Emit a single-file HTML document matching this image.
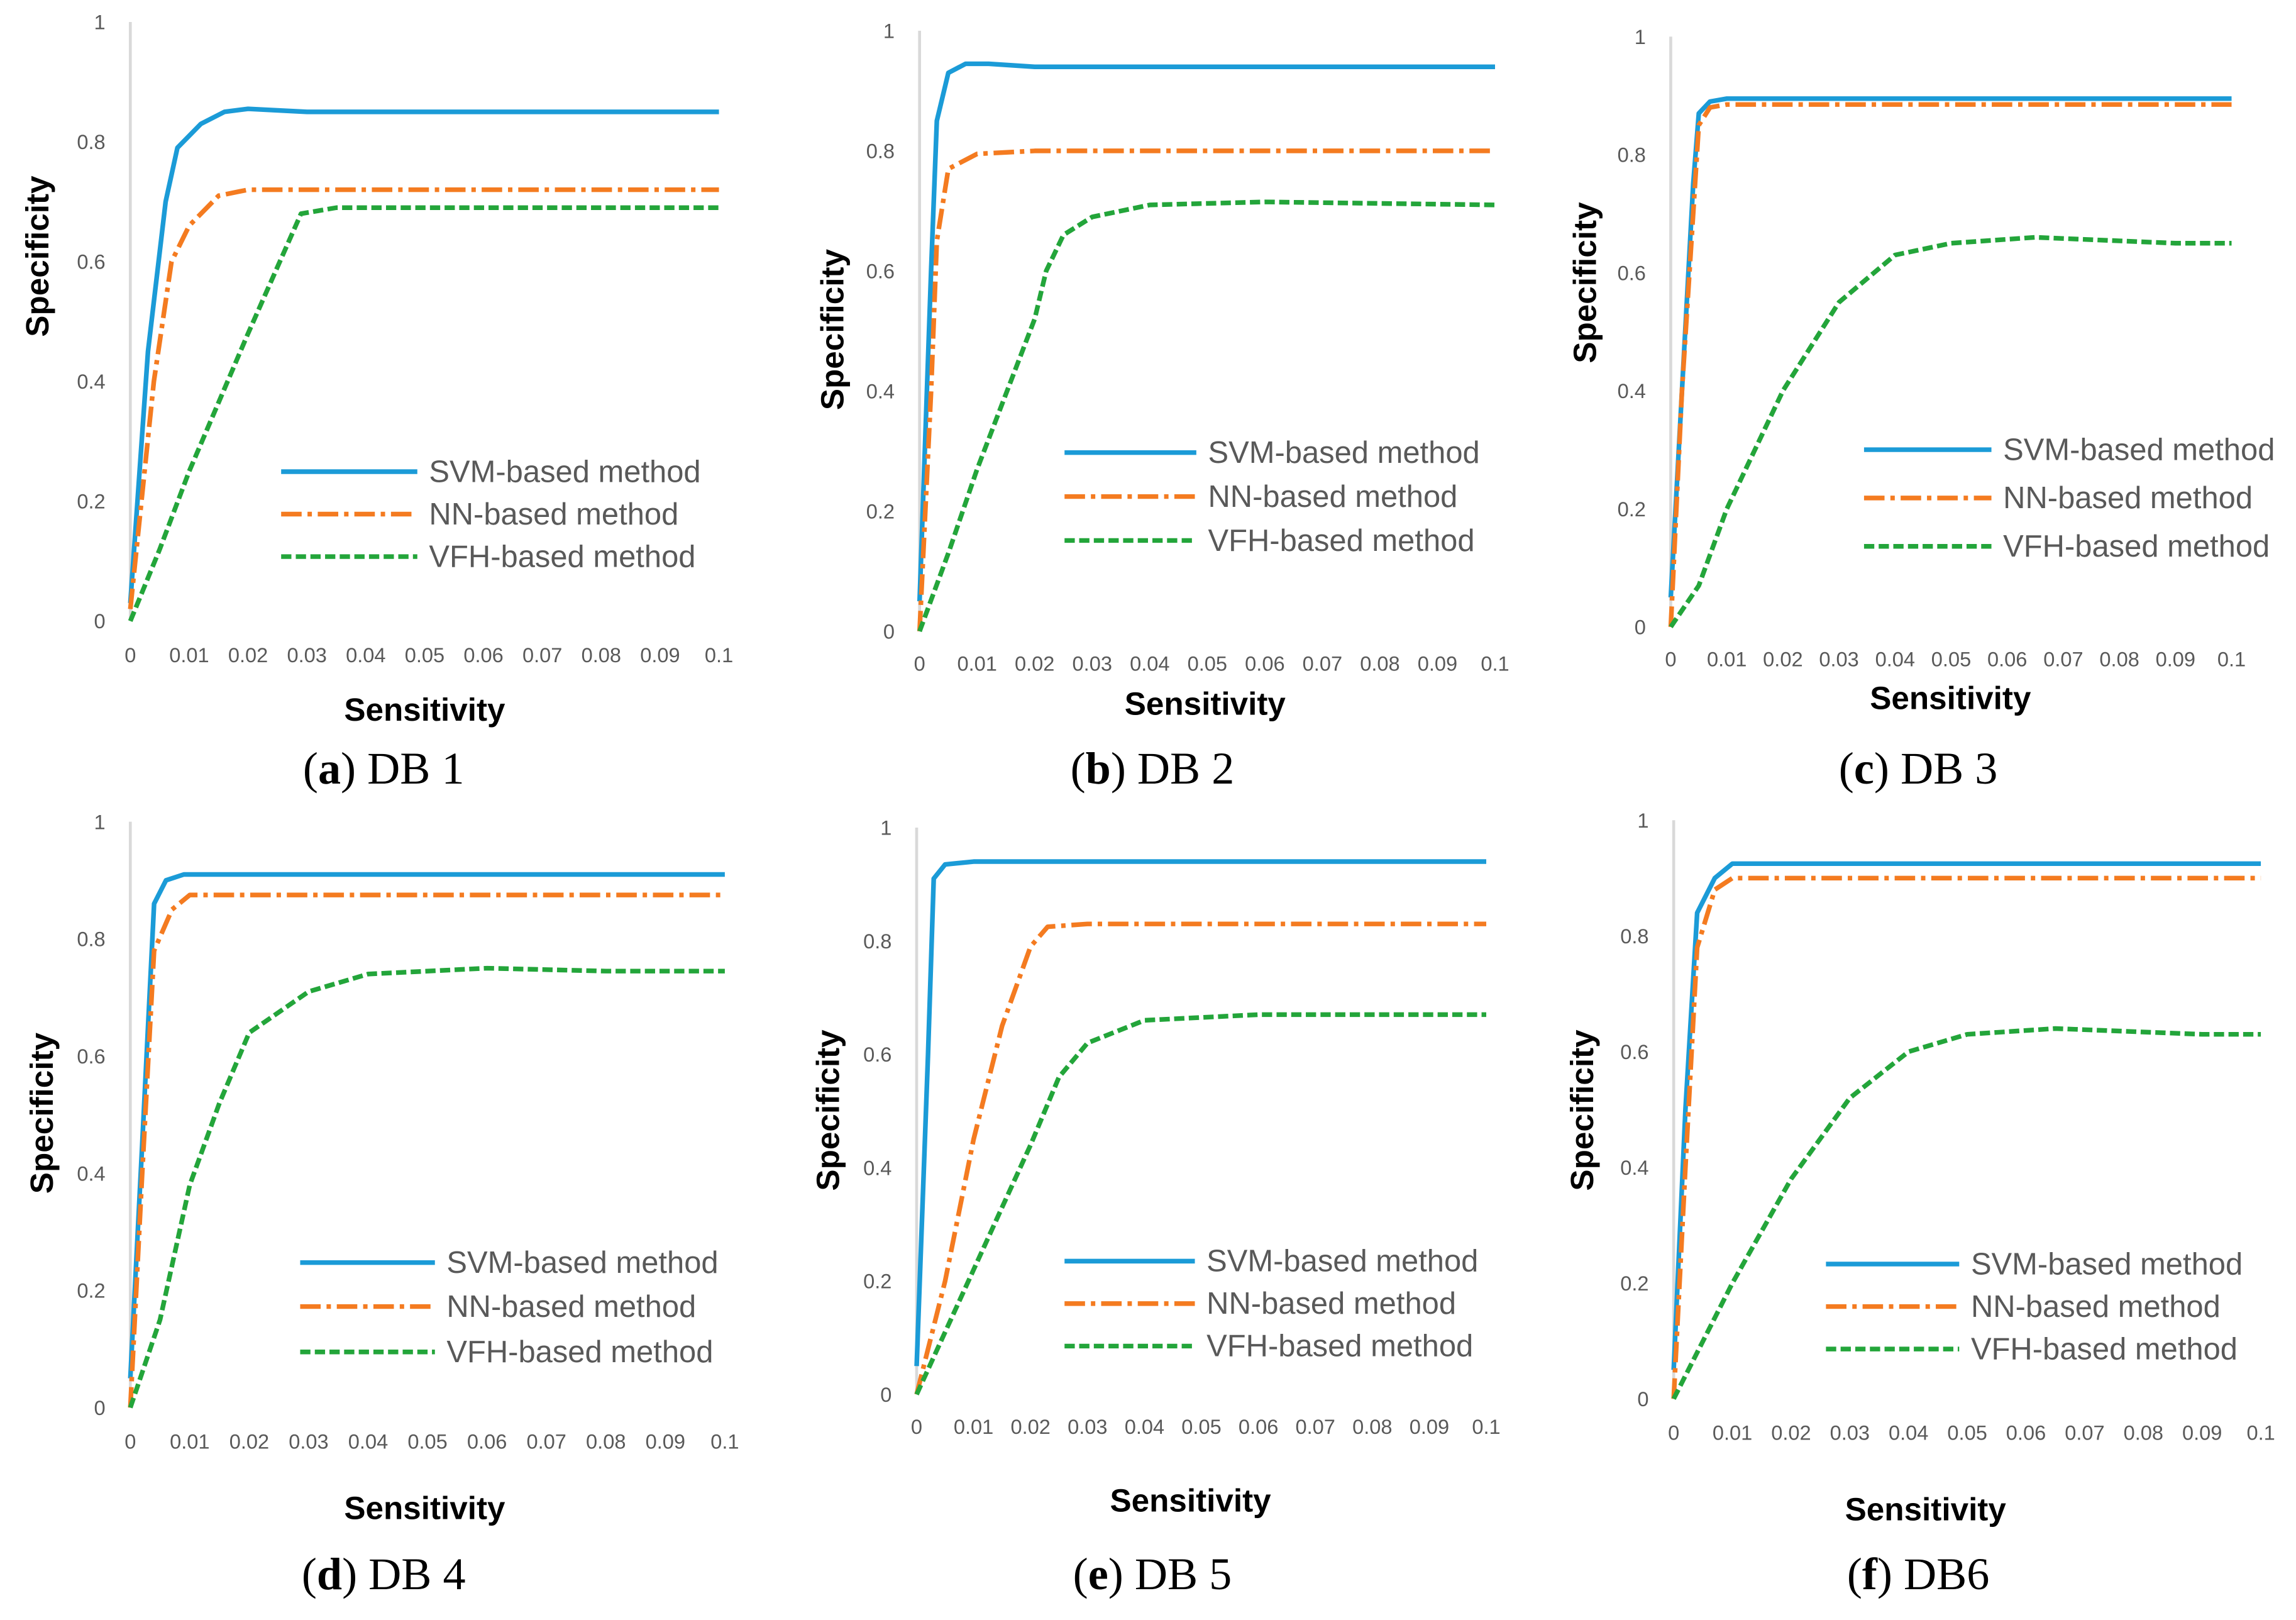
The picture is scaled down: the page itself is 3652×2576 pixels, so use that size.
<!DOCTYPE html>
<html><head><meta charset="utf-8"><style>
html,body{margin:0;padding:0;background:#fff}
svg{display:block}
</style></head><body>
<svg id="fig" width="3652" height="2576" viewBox="0 0 1568 1106" xmlns="http://www.w3.org/2000/svg" font-family="Liberation Sans, sans-serif"></svg>
<script>
const NS="http://www.w3.org/2000/svg";
const fig=document.getElementById('fig');
const xTicks=["0","0.01","0.02","0.03","0.04","0.05","0.06","0.07","0.08","0.09","0.1"];
const yTicks=["0","0.2","0.4","0.6","0.8","1"];
const seriesNames=["SVM-based method","NN-based method","VFH-based method"];
const captions=[["a","DB 1"],["b","DB 2"],["c","DB 3"],["d","DB 4"],["e","DB 5"],["f","DB6"]];
// data: [x, y] per series per panel
const svmA=[[0,0.03],[0.003,0.45],[0.006,0.7],[0.008,0.79],[0.012,0.83],[0.016,0.85],[0.02,0.855],[0.03,0.85],[0.1,0.85]];
const nnA=[[0,0.02],[0.004,0.4],[0.007,0.6],[0.01,0.66],[0.015,0.71],[0.02,0.72],[0.03,0.72],[0.1,0.72]];
const vfhA=[[0,0],[0.005,0.12],[0.01,0.25],[0.02,0.48],[0.029,0.68],[0.035,0.69],[0.1,0.69]];
const svmB=[[0,0.05],[0.002,0.6],[0.003,0.85],[0.005,0.93],[0.008,0.945],[0.012,0.945],[0.02,0.94],[0.1,0.94]];
const nnB=[[0,0],[0.002,0.4],[0.003,0.65],[0.005,0.77],[0.01,0.795],[0.02,0.8],[0.1,0.8]];
const vfhB=[[0,0],[0.005,0.13],[0.01,0.27],[0.02,0.52],[0.022,0.6],[0.025,0.66],[0.03,0.69],[0.04,0.71],[0.06,0.715],[0.1,0.71]];
const svmC=[[0,0.05],[0.002,0.4],[0.004,0.75],[0.005,0.87],[0.007,0.89],[0.01,0.895],[0.1,0.895]];
const nnC=[[0,0],[0.002,0.4],[0.005,0.85],[0.007,0.88],[0.01,0.885],[0.1,0.885]];
const vfhC=[[0,0],[0.005,0.07],[0.01,0.2],[0.02,0.4],[0.03,0.55],[0.04,0.63],[0.05,0.65],[0.065,0.66],[0.09,0.65],[0.1,0.65]];
const svmD=[[0,0.05],[0.002,0.45],[0.004,0.86],[0.006,0.9],[0.009,0.91],[0.1,0.91]];
const nnD=[[0,0],[0.002,0.4],[0.004,0.78],[0.007,0.85],[0.01,0.875],[0.1,0.875]];
const vfhD=[[0,0],[0.005,0.15],[0.01,0.38],[0.015,0.52],[0.02,0.64],[0.03,0.71],[0.04,0.74],[0.06,0.75],[0.08,0.745],[0.1,0.745]];
const svmE=[[0,0.05],[0.002,0.6],[0.003,0.91],[0.005,0.935],[0.01,0.94],[0.1,0.94]];
const nnE=[[0,0],[0.005,0.2],[0.01,0.45],[0.015,0.65],[0.02,0.79],[0.023,0.825],[0.03,0.83],[0.06,0.83],[0.1,0.83]];
const vfhE=[[0,0],[0.01,0.22],[0.02,0.44],[0.025,0.56],[0.03,0.62],[0.04,0.66],[0.06,0.67],[0.1,0.67]];
const svmF=[[0,0.05],[0.002,0.5],[0.004,0.84],[0.007,0.9],[0.01,0.925],[0.1,0.925]];
const nnF=[[0,0],[0.002,0.4],[0.004,0.78],[0.007,0.88],[0.01,0.9],[0.1,0.9]];
const vfhF=[[0,0],[0.01,0.2],[0.02,0.38],[0.03,0.52],[0.04,0.6],[0.05,0.63],[0.065,0.64],[0.09,0.63],[0.1,0.63]];
const panelData=[[svmA,nnA,vfhA],[svmB,nnB,vfhB],[svmC,nnC,vfhC],[svmD,nnD,vfhD],[svmE,nnE,vfhE],[svmF,nnF,vfhF]];

const layout=[
 {x0:89,x1:491,y0:424,y1:15,xl:447,sy:[25,175],sx:[290,484],cap:[262,525],lg:[192,285,[322,351,380]]},
 {x0:628,x1:1021,y0:431,y1:21,xl:453,sy:[568,225],sx:[823,480],cap:[787,525],lg:[727,817,[309,339,369]]},
 {x0:1141,x1:1524,y0:428,y1:25,xl:450,sy:[1082,193],sx:[1332,476],cap:[1310,525],lg:[1273,1360,[307,340,373]]},
 {x0:89,x1:495,y0:961,y1:561,xl:984,sy:[28,760],sx:[290,1029],cap:[262,1075],lg:[205,297,[862,892,923]]},
 {x0:626,x1:1015,y0:952,y1:565,xl:974,sy:[565,758],sx:[813,1024],cap:[787,1075],lg:[727,816,[861,890,919]]},
 {x0:1143,x1:1544,y0:955,y1:560,xl:978,sy:[1080,758],sx:[1315,1030],cap:[1310,1075],lg:[1247,1338,[863,892,921]]}
];
const colors=["#1b9bd7","#f47b20","#23a53a"];
const dashes=["none","14 4 3 4","7 3"];
function el(t,a,p){const e=document.createElementNS(NS,t);for(const k in a)e.setAttribute(k,a[k]);(p||fig).appendChild(e);return e;}
layout.forEach((L,pi)=>{
 const g=el('g',{});
 
 
 const X=v=>L.x0+(v/0.1)*(L.x1-L.x0);
 const Y=v=>L.y0-v*(L.y0-L.y1);
 let a=el('line',{x1:L.x0,y1:L.y0,x2:L.x0,y2:L.y1,stroke:'#d9d9d9','stroke-width':2},g);
 
 yTicks.forEach(t=>{const tx=el('text',{x:L.x0-17,y:Y(+t)+5,'text-anchor':'end','font-size':14,fill:'#595959'},g);tx.textContent=t;
  });
 xTicks.forEach(t=>{const tx=el('text',{x:X(+t),y:L.xl+5,'text-anchor':'middle','font-size':14,fill:'#595959'},g);tx.textContent=t;
  });
 let yt=el('text',{x:L.sy[0],y:L.sy[1],'text-anchor':'middle','font-size':22,'font-weight':'bold',fill:'#000',transform:`rotate(-90 ${L.sy[0]} ${L.sy[1]})`,dy:8},g);
 yt.textContent='Specificity';
 let xt=el('text',{x:L.sx[0],y:L.sx[1]+8,'text-anchor':'middle','font-size':22,'font-weight':'bold',fill:'#000'},g);
 xt.textContent='Sensitivity';
 let cp=el('text',{x:L.cap[0],y:L.cap[1]+10,'text-anchor':'middle','font-size':31,fill:'#000','font-family':'Liberation Serif, serif'},g);
 cp.innerHTML=`(<tspan font-weight="bold">${captions[pi][0]}</tspan>) ${captions[pi][1]}`;
 
 panelData[pi].forEach((s,si)=>{
  const p=el('polyline',{points:s.map(d=>X(d[0])+','+Y(d[1])).join(' '),fill:'none',stroke:colors[si],'stroke-width':3.2,'stroke-dasharray':dashes[si],'stroke-linejoin':'round'},g);
  
  
  const ly=L.lg[2][si];
  const ll=el('line',{x1:L.lg[0],y1:ly,x2:L.lg[1],y2:ly,stroke:colors[si],'stroke-width':3.2,'stroke-dasharray':dashes[si]},g);
  
  const lt=el('text',{x:L.lg[1]+8,y:ly+7,'font-size':21,fill:'#595959'},g);
  lt.textContent=seriesNames[si];
  
 });
});
</script>
</body></html>
